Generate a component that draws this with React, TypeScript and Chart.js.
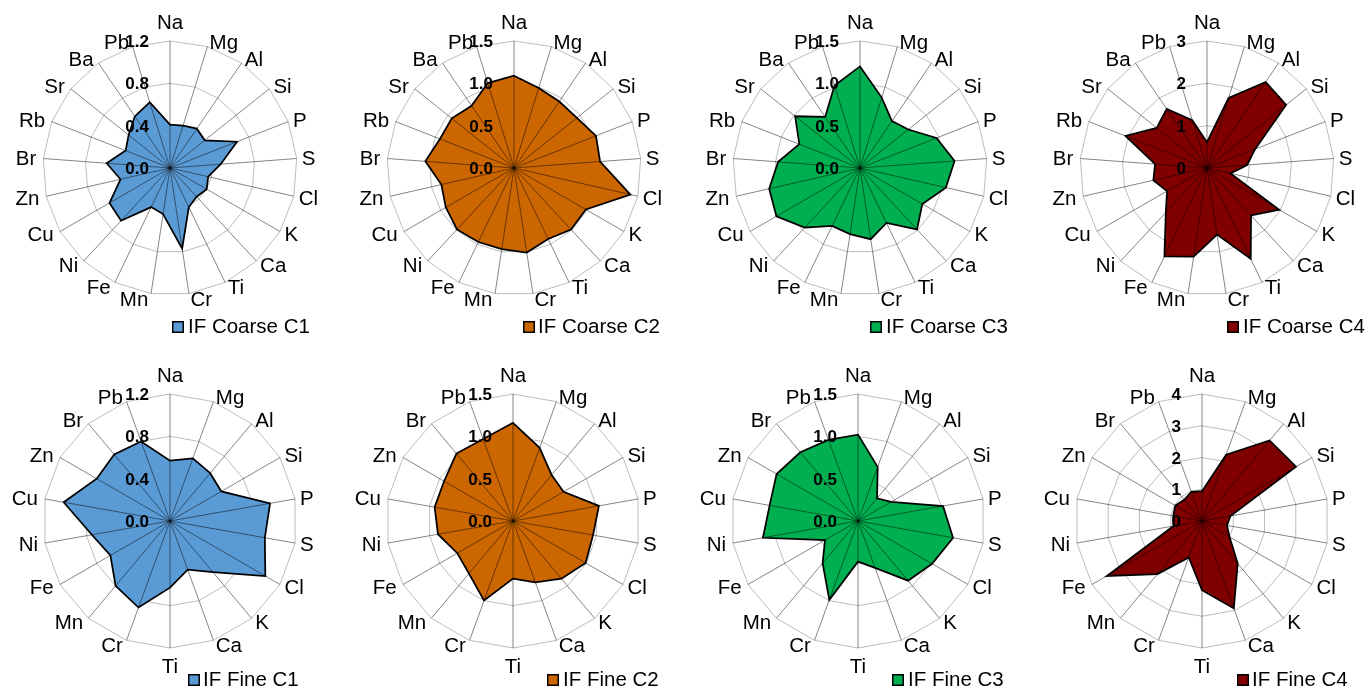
import React, { useEffect, useRef } from "react";
import { Chart, registerables } from "chart.js";

Chart.register(...registerables);

// Element axes
const coarseElements = ["Na", "Mg", "Al", "Si", "P", "S", "Cl", "K", "Ca", "Ti", "Cr", "Mn", "Fe", "Ni", "Cu", "Zn", "Br", "Rb", "Sr", "Ba", "Pb"];
const fineElements = ["Na", "Mg", "Al", "Si", "P", "S", "Cl", "K", "Ca", "Ti", "Cr", "Mn", "Fe", "Ni", "Cu", "Zn", "Br", "Pb"];

// Enrichment values, coarse fraction
const coarseC1 = [0.41, 0.42, 0.45, 0.42, 0.68, 0.48, 0.37, 0.40, 0.37, 0.41, 0.77, 0.44, 0.41, 0.68, 0.66, 0.48, 0.60, 0.45, 0.50, 0.59, 0.65];
const coarseC2 = [1.09, 0.99, 0.95, 0.95, 1.04, 1.02, 1.41, 0.98, 0.99, 0.93, 1.01, 0.97, 0.97, 0.99, 0.93, 0.88, 1.05, 0.94, 0.94, 0.89, 1.05];
const coarseC3 = [1.20, 0.87, 0.67, 0.73, 0.97, 1.12, 1.04, 0.85, 0.99, 0.72, 0.85, 0.79, 0.76, 0.96, 1.14, 1.10, 0.97, 0.77, 0.98, 0.73, 1.02];
const coarseC4 = [0.61, 1.73, 2.46, 2.39, 1.22, 0.95, 0.57, 1.97, 1.53, 2.38, 1.59, 2.12, 2.32, 1.43, 1.09, 1.30, 1.23, 2.07, 1.52, 1.69, 1.18];

// Enrichment values, fine fraction
const fineC1 = [0.57, 0.63, 0.59, 0.56, 0.96, 0.91, 1.04, 0.63, 0.49, 0.63, 0.87, 0.80, 0.65, 0.75, 1.02, 0.80, 0.82, 0.80];
const fineC2 = [1.16, 0.92, 0.71, 0.69, 1.03, 0.96, 0.99, 0.89, 0.77, 0.68, 1.00, 0.81, 0.76, 0.90, 0.94, 0.94, 1.04, 1.03];
const fineC3 = [1.02, 0.68, 0.35, 0.45, 1.02, 1.14, 1.01, 0.92, 0.59, 0.48, 0.99, 0.65, 0.45, 1.14, 1.06, 1.11, 1.06, 1.02];
const fineC4 = [0.94, 2.22, 3.31, 3.42, 0.91, 0.80, 1.00, 1.75, 2.93, 2.18, 1.22, 2.18, 3.46, 0.91, 0.92, 0.97, 0.87, 0.98];

// Radial axis ranges: [max, step, decimals]
const axisSmall = [1.2, 0.4, 1];
const axisMid = [1.5, 0.5, 1];
const axisCoarseC4 = [3, 1, 0];
const axisFineC4 = [4, 1, 0];

const seriesNames = ["IF Coarse C1", "IF Coarse C2", "IF Coarse C3", "IF Coarse C4", "IF Fine C1", "IF Fine C2", "IF Fine C3", "IF Fine C4"];
const clusterColors = ["#5B9BD5", "#CC6600", "#00B050", "#800000"];

const FONT = "'Liberation Sans', Arial, Helvetica, sans-serif";
const R = 127;

type Panel = {
  name: string;
  labels: string[];
  values: number[];
  axis: number[];
  color: string;
  left: number; top: number; width: number; height: number;
  cx: number; cy: number;
  legendX: number; legendY: number; legendTextX: number;
};

const panelBoxes = [
  { left: 0, top: 0, cx: 170, cy: 168, legendX: 172, legendY: 321, legendTextX: 188 },
  { left: 342, top: 0, cx: 514, cy: 168, legendX: 523, legendY: 321, legendTextX: 538 },
  { left: 685, top: 0, cx: 860, cy: 168, legendX: 870, legendY: 321, legendTextX: 886 },
  { left: 1027, top: 0, cx: 1207, cy: 168, legendX: 1227, legendY: 321, legendTextX: 1243 },
  { left: 0, top: 344, cx: 170, cy: 521, legendX: 188, legendY: 674, legendTextX: 203 },
  { left: 342, top: 344, cx: 513, cy: 521, legendX: 547, legendY: 674, legendTextX: 563 },
  { left: 685, top: 344, cx: 858, cy: 521, legendX: 892, legendY: 674, legendTextX: 908 },
  { left: 1027, top: 344, cx: 1202, cy: 521, legendX: 1237, legendY: 674, legendTextX: 1252 },
];

const seriesValues = [coarseC1, coarseC2, coarseC3, coarseC4, fineC1, fineC2, fineC3, fineC4];
const seriesAxes = [axisSmall, axisMid, axisMid, axisCoarseC4, axisSmall, axisMid, axisMid, axisFineC4];

const panels: Panel[] = panelBoxes.map((b, i) => ({
  name: seriesNames[i],
  labels: i < 4 ? coarseElements : fineElements,
  values: seriesValues[i],
  axis: seriesAxes[i],
  color: clusterColors[i % 4],
  left: b.left,
  top: b.top,
  width: i % 4 === 3 ? 343 : 342,
  height: 344,
  cx: b.cx,
  cy: b.cy,
  legendX: b.legendX,
  legendY: b.legendY,
  legendTextX: b.legendTextX,
}));

// Draws spokes over the filled area, element names, bold value ticks and the legend entry.
const radarDecor = {
  id: "radarDecor",
  afterDatasetsDraw(chart: any, _args: any, opts: any) {
    const scale = chart.scales.r;
    const ctx: CanvasRenderingContext2D = chart.ctx;
    const labels: string[] = chart.data.labels;
    const n = labels.length;
    const r = scale.drawingArea;
    const xc = scale.xCenter;
    const yc = scale.yCenter;

    ctx.save();
    // spokes
    ctx.strokeStyle = "rgba(0,0,0,0.48)";
    ctx.lineWidth = 1;
    for (let i = 0; i < n; i++) {
      const p = scale.getPointPosition(i, r);
      ctx.beginPath();
      ctx.moveTo(xc, yc);
      ctx.lineTo(p.x, p.y);
      ctx.stroke();
    }

    // element names
    const fs = 20.5;
    ctx.font = `${fs}px ${FONT}`;
    ctx.fillStyle = "#000";
    const capHalf = 0.716 * fs / 2;
    for (let i = 0; i < n; i++) {
      const p = scale.getPointPosition(i, r);
      const s = (p.x - xc) / r;
      const c = (yc - p.y) / r;
      let x: number;
      let midY: number;
      if (Math.abs(s) < 0.05) {
        ctx.textAlign = "center";
        x = p.x;
        midY = p.y + (c > 0 ? -19 : 18);
      } else if (s > 0) {
        ctx.textAlign = "left";
        x = p.x + 1 + 4 * s;
        midY = p.y - 5 * c;
      } else {
        ctx.textAlign = "right";
        x = p.x - 2 - 5 * Math.abs(s);
        midY = p.y - 5 * c;
      }
      ctx.textBaseline = "alphabetic";
      ctx.fillText(labels[i], x, midY + capHalf);
    }

    // value ticks
    const tfs = 17;
    ctx.font = `bold ${tfs}px ${FONT}`;
    ctx.textAlign = "right";
    ctx.textBaseline = "alphabetic";
    scale.ticks.forEach((t: any) => {
      const y = yc - scale.getDistanceFromCenterForValue(t.value);
      ctx.fillText(Number(t.value).toFixed(opts.decimals), xc - 21, y + 0.716 * tfs / 2);
    });

    // legend entry
    ctx.fillStyle = opts.color;
    ctx.fillRect(opts.legendX, opts.legendY, 12, 12);
    ctx.strokeStyle = "#000";
    ctx.lineWidth = 1.5;
    ctx.strokeRect(opts.legendX + 0.75, opts.legendY + 0.75, 10.5, 10.5);
    ctx.fillStyle = "#000";
    ctx.font = `${fs}px ${FONT}`;
    ctx.textAlign = "left";
    ctx.fillText(opts.name, opts.legendTextX, opts.legendY + 12);
    ctx.restore();
  },
};

function RadarPanel({ panel }: { panel: Panel }) {
  const ref = useRef<HTMLCanvasElement>(null);

  useEffect(() => {
    if (!ref.current) return;
    const [max, step, decimals] = panel.axis;
    const relCx = panel.cx - panel.left;
    const relCy = panel.cy - panel.top;
    const chart = new Chart(ref.current, {
      type: "radar",
      data: {
        labels: panel.labels,
        datasets: [
          {
            label: panel.name,
            data: panel.values,
            backgroundColor: panel.color,
            borderColor: "#000",
            borderWidth: 1.75,
            pointRadius: 0,
            pointHoverRadius: 0,
            fill: true,
          },
        ],
      },
      options: {
        responsive: false,
        animation: false,
        layout: {
          padding: {
            left: relCx - R,
            right: panel.width - relCx - R,
            top: relCy - R,
            bottom: panel.height - relCy - R,
          },
        },
        scales: {
          r: {
            min: 0,
            max,
            ticks: { display: false, stepSize: step },
            pointLabels: { display: false },
            angleLines: { display: false },
            grid: { color: "#bdbdbd", lineWidth: 1 },
          },
        },
        plugins: {
          legend: { display: false },
          tooltip: { enabled: false },
          radarDecor: {
            decimals,
            color: panel.color,
            name: panel.name,
            legendX: panel.legendX - panel.left,
            legendY: panel.legendY - panel.top,
            legendTextX: panel.legendTextX - panel.left,
          },
        } as any,
      },
      plugins: [radarDecor],
    });
    return () => chart.destroy();
  }, [panel]);

  return (
    <canvas
      ref={ref}
      width={panel.width}
      height={panel.height}
      style={{ position: "absolute", left: panel.left, top: panel.top, width: panel.width, height: panel.height }}
    />
  );
}

export default function App() {
  return (
    <div style={{ position: "fixed", left: 0, top: 0, width: 1370, height: 688, background: "#fff", overflow: "hidden" }}>
      {panels.map((p) => (
        <RadarPanel key={p.name} panel={p} />
      ))}
    </div>
  );
}
